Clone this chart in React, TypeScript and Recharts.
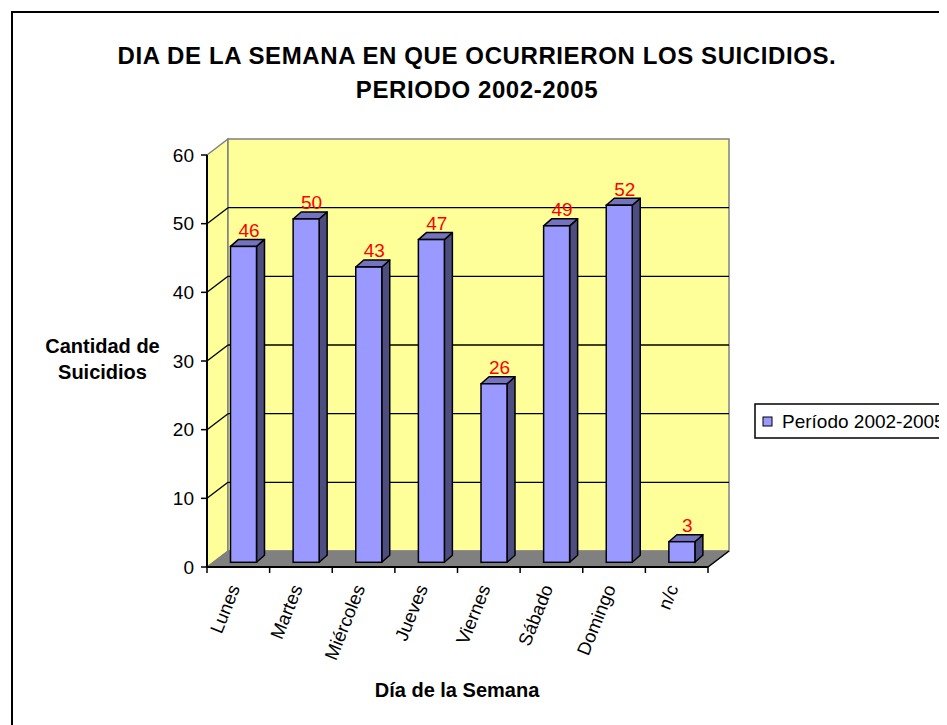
import React from 'react';
import { BarChart, Bar, XAxis, YAxis, ReferenceArea, ReferenceLine, LabelList } from 'recharts';

const days = ['Lunes', 'Martes', 'Miércoles', 'Jueves', 'Viernes', 'Sábado', 'Domingo', 'n/c'];
const suicides = [46, 50, 43, 47, 26, 49, 52, 3];
const yTicks = [0, 10, 20, 30, 40, 50, 60];
const gridValues = [10, 20, 30, 40, 50];
const seriesName = 'Período 2002-2005';
const titleLines = ['DIA DE LA SEMANA EN QUE OCURRIERON LOS SUICIDIOS.', 'PERIODO 2002-2005'];
const yTitleLines = ['Cantidad de', 'Suicidios'];
const xTitle = 'Día de la Semana';

const data = days.map((d, i) => ({ day: d, value: suicides[i] }));

const W = 939;
const H = 717;
const DX = 21;
const DY = 16;
const BX = 5.5;
const BY = 4.7;
const BDX = 8;
const BDY = 7;
const FONT = '"Liberation Sans", Arial, Helvetica, sans-serif';

const Walls = (props: any) => {
  const { x, y, width, height } = props;
  const b = y + height;
  const r = x + width;
  const n = days.length;
  const ticks = [];
  for (let i = 0; i <= n; i++) {
    const tx = x + (width * i) / n;
    ticks.push(<line key={i} x1={tx} y1={b} x2={tx} y2={b + 6} stroke="#000" strokeWidth={1.5} />);
  }
  return (
    <g>
      <polygon points={`${x},${y} ${x + DX},${y - DY} ${x + DX},${b - DY} ${x},${b}`} fill="#FFFF99" stroke="#808080" strokeWidth={1.5} />
      <rect x={x + DX} y={y - DY} width={width} height={height} fill="#FFFF99" stroke="#808080" strokeWidth={1.5} />
      <polygon points={`${x},${b} ${r},${b} ${r + DX},${b - DY} ${x + DX},${b - DY}`} fill="#808080" stroke="#808080" strokeWidth={1} />
      <line x1={r} y1={b} x2={r + DX} y2={b - DY} stroke="#000" strokeWidth={1.5} />
      <line x1={x} y1={b} x2={r} y2={b} stroke="#000" strokeWidth={2} />
      <line x1={x} y1={y} x2={x} y2={b} stroke="#000" strokeWidth={2} />
      {ticks}
    </g>
  );
};

const GridLine = (props: any) => {
  const { x1, y1, x2 } = props;
  return (
    <g>
      <line x1={x1} y1={y1} x2={x1 + DX} y2={y1 - DY} stroke="#000" strokeWidth={1.3} />
      <line x1={x1 + DX} y1={y1 - DY} x2={x2 + DX} y2={y1 - DY} stroke="#000" strokeWidth={1.3} />
    </g>
  );
};

const Bar3D = (props: any) => {
  const { x, y, width, height } = props;
  if (x == null || height == null) return null;
  const X = x + BX;
  const Y = y - BY;
  const w = width;
  const h = height;
  return (
    <g>
      <polygon points={`${X + w},${Y} ${X + w + BDX},${Y - BDY} ${X + w + BDX},${Y + h - BDY} ${X + w},${Y + h}`} fill="#4D4D80" stroke="#000" strokeWidth={1.5} strokeLinejoin="round" />
      <polygon points={`${X},${Y} ${X + BDX},${Y - BDY} ${X + w + BDX},${Y - BDY} ${X + w},${Y}`} fill="#7373BF" stroke="#000" strokeWidth={1.5} strokeLinejoin="round" />
      <rect x={X} y={Y} width={w} height={h} fill="#9999FF" stroke="#000" strokeWidth={1.5} />
    </g>
  );
};

const BarValue = (props: any) => {
  const { x, y, width, value } = props;
  return (
    <text x={Number(x) + Number(width) / 2 + BX + 5.5} y={Number(y) - BY - 9.7} textAnchor="middle" fill="#FF0000" fontSize={19} fontFamily={FONT}>
      {value}
    </text>
  );
};

const XTick = (props: any) => {
  const { x, y, payload } = props;
  const ax = x + 2;
  const ay = y + 21;
  return (
    <text x={ax} y={ay} transform={`rotate(-68, ${ax}, ${ay})`} textAnchor="end" fontSize={18.5} fontFamily={FONT} fill="#000">
      {payload.value}
    </text>
  );
};

export default function App() {
  return (
    <div style={{ position: 'relative', width: W, height: H, overflow: 'hidden', background: '#fff' }}>
      <div style={{ position: 'absolute', left: 3, top: 3, width: W + 40, height: H + 40, border: '2px solid #000', boxSizing: 'border-box' }} />
      <div style={{ position: 'absolute', left: 0, top: 0 }}>
        <BarChart width={W} height={H} data={data} margin={{ top: 147, right: 239, bottom: 118, left: 139 }}>
          <ReferenceArea y1={0} y2={60} shape={Walls} zIndex={-200} ifOverflow="visible" />
          {gridValues.map((v) => (
            <ReferenceLine key={v} y={v} shape={GridLine} zIndex={-150} ifOverflow="visible" />
          ))}
          <XAxis dataKey="day" tick={<XTick />} tickLine={false} tickSize={0} tickMargin={0} axisLine={{ stroke: '#000', strokeWidth: 2 }} interval={0} height={40} />
          <YAxis domain={[0, 60]} ticks={yTicks} width={60} tickSize={6} tickMargin={7} axisLine={{ stroke: '#000', strokeWidth: 2 }} tickLine={{ stroke: '#000', strokeWidth: 1.5 }} tick={{ fill: '#000', fontSize: 19, fontFamily: FONT }} interval={0} />
          <Bar dataKey="value" name={seriesName} barSize={26} shape={<Bar3D />} isAnimationActive={false}>
            <LabelList dataKey="value" content={<BarValue />} />
          </Bar>
        </BarChart>
      </div>
      <svg width={W} height={H} style={{ position: 'absolute', left: 0, top: 0, pointerEvents: 'none' }}>
        <text x={469} y={56} textAnchor="middle" fontSize={24} fontWeight="bold" fontFamily={FONT} letterSpacing={0.6}>{titleLines[0]}</text>
        <text x={469} y={90} textAnchor="middle" fontSize={24} fontWeight="bold" fontFamily={FONT} letterSpacing={0.6}>{titleLines[1]}</text>
        <text x={94.5} y={345} textAnchor="middle" fontSize={20} fontWeight="bold" fontFamily={FONT}>{yTitleLines[0]}</text>
        <text x={94.5} y={371} textAnchor="middle" fontSize={20} fontWeight="bold" fontFamily={FONT}>{yTitleLines[1]}</text>
        <text x={449} y={689} textAnchor="middle" fontSize={20} fontWeight="bold" fontFamily={FONT}>{xTitle}</text>
        <rect x={747} y={396} width={230} height={34} fill="#fff" stroke="#000" strokeWidth={1.5} />
        <rect x={755} y={409} width={9} height={9} fill="#9999FF" stroke="#000" strokeWidth={1} />
        <text x={774} y={420} fontSize={19} fontFamily={FONT}>{seriesName}</text>
      </svg>
    </div>
  );
}
